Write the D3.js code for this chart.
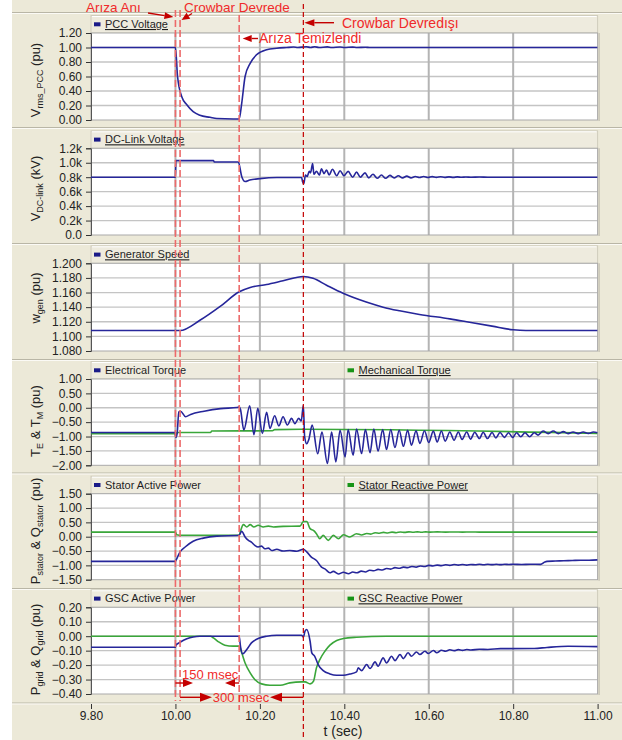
<!DOCTYPE html>
<html><head><meta charset="utf-8">
<script src="https://cdn.jsdelivr.net/npm/d3@7"></script>
<style>
body{margin:0;background:#fff;}
svg{display:block;font-family:"Liberation Sans",Arial,sans-serif;}
</style>
</head><body>
<svg id="chart" width="622" height="740"></svg>
<script>
// ---------------- DATA ----------------
const xTicks = [9.8, 10.0, 10.2, 10.4, 10.6, 10.8, 11.0];
const pccTicks = [0, 0.2, 0.4, 0.6, 0.8, 1.0, 1.2];
const dcTickLabels = ["0.0", "0.2k", "0.4k", "0.6k", "0.8k", "1.0k", "1.2k"];
const dcTicks = [0, 0.2, 0.4, 0.6, 0.8, 1.0, 1.2];
const speedTicks = [1.08, 1.10, 1.12, 1.14, 1.16, 1.18, 1.20];
const torqueTicks = [-2.0, -1.5, -1.0, -0.5, 0, 0.5, 1.0];
const statorTicks = [-1.5, -1.0, -0.5, 0, 0.5, 1.0, 1.5];
const gscTicks = [-0.4, -0.3, -0.2, -0.1, 0, 0.1, 0.2];

// event times (s)
const eventTimes = { fault: 10.0, crowbarOn: 10.011, faultClear: 10.151, crowbarOff: 10.303 };

const pccVoltage = [[9.8,1.0],[10.0,1.0],[10.005,0.60],[10.015,0.32],[10.027,0.21],[10.042,0.115],[10.058,0.065],[10.082,0.037],[10.098,0.02],[10.137,0.014],[10.151,0.015],[10.157,0.23],[10.165,0.60],[10.177,0.78],[10.192,0.90],[10.216,0.97],[10.24,0.99],[10.263,1.0],[10.28,1.006],[10.29,1.0],[10.31,1.01],[10.32,1.0],[10.33,1.01],[10.34,1.0],[10.36,1.008],[10.37,1.0],[10.39,1.006],[10.40,1.0],[10.42,1.005],[10.43,1.0],[10.45,1.004],[10.46,1.0],[11.0,1.0]];

const dcLinkVoltage = [[9.8,0.80],[10.0,0.80],[10.001,1.03],[10.09,1.03],[10.092,1.01],[10.149,1.01],[10.157,0.81],[10.165,0.74],[10.176,0.76],[10.20,0.78],[10.24,0.795],[10.299,0.795],[10.301,0.74],[10.304,0.71],[10.308,0.83],[10.312,0.81],[10.317,0.88],[10.320,0.86],[10.325,0.99],[10.328,0.84],[10.334,0.88],[10.341,0.83],[10.346,0.915],[10.352,0.85],[10.358,0.90],[10.364,0.83],[10.372,0.91],[10.382,0.82],[10.390,0.89],[10.399,0.82],[10.409,0.88],[10.420,0.80],[10.429,0.87],[10.438,0.80],[10.449,0.86],[10.458,0.79],[10.468,0.84],[10.478,0.785],[10.488,0.83],[10.498,0.785],[10.508,0.825],[10.518,0.79],[10.528,0.82],[10.538,0.79],[10.548,0.815],[10.558,0.79],[10.568,0.81],[10.578,0.795],[10.588,0.81],[10.598,0.795],[10.608,0.808],[10.618,0.797],[10.628,0.806],[10.638,0.798],[10.648,0.805],[10.658,0.798],[10.668,0.804],[10.678,0.799],[10.688,0.803],[10.70,0.80],[10.72,0.802],[10.74,0.80],[11.0,0.80]];

const generatorSpeed = [[9.8,1.108],[10.011,1.108],[10.058,1.122],[10.106,1.141],[10.151,1.161],[10.177,1.167],[10.216,1.171],[10.255,1.176],[10.303,1.182],[10.326,1.1795],[10.358,1.170],[10.397,1.159],[10.452,1.147],[10.492,1.140],[10.531,1.135],[10.578,1.130],[10.65,1.124],[10.70,1.119],[10.75,1.114],[10.80,1.109],[10.83,1.108],[11.0,1.108]];

const electricalTorque = [[9.8,-0.86],[9.999,-0.86],[10.001,-1.03],[10.004,-0.9],[10.008,-0.14],[10.012,-0.12],[10.024,-0.31],[10.036,-0.23],[10.068,-0.12],[10.107,-0.03],[10.146,0.01],[10.151,0.03],[10.154,-0.05],[10.162,-0.77],[10.176,0.07],[10.186,-0.94],[10.195,-0.02],[10.206,-0.89],[10.216,-0.16],[10.224,-0.72],[10.235,-0.28],[10.245,-0.63],[10.255,-0.31],[10.265,-0.60],[10.275,-0.37],[10.283,-0.55],[10.292,-0.37],[10.298,-0.46],[10.303,0.09],[10.306,-1.0],[10.311,-1.25],[10.316,-1.1],[10.324,-0.60],[10.337,-1.6],[10.347,-0.84],[10.360,-1.94],[10.370,-0.84],[10.380,-1.88],[10.390,-0.78],[10.402,-1.71],[10.409,-0.76],[10.421,-1.65],[10.429,-0.74],[10.441,-1.59],[10.450,-0.76],[10.461,-1.56],[10.470,-0.74],[10.480,-1.51],[10.491,-0.76],[10.500,-1.45],[10.510,-0.76],[10.520,-1.38],[10.530,-0.78],[10.540,-1.34],[10.550,-0.78],[10.559,-1.30],[10.570,-0.80],[10.579,-1.24],[10.590,-0.80],[10.600,-1.21],[10.611,-0.81],[10.620,-1.19],[10.630,-0.81],[10.639,-1.16],[10.650,-0.84],[10.660,-1.13],[10.670,-0.84],[10.679,-1.10],[10.690,-0.84],[10.699,-1.09],[10.709,-0.85],[10.720,-1.07],[10.729,-0.85],[10.739,-1.07],[10.750,-0.86],[10.759,-1.05],[10.769,-0.86],[10.779,-1.03],[10.789,-0.87],[10.799,-1.03],[10.808,-0.87],[10.818,-1.01],[10.828,-0.87],[10.839,-1.01],[10.850,-0.87],[10.859,-0.95],[10.871,-0.81],[10.883,-0.90],[10.895,-0.81],[10.907,-0.90],[10.919,-0.83],[10.930,-0.90],[10.942,-0.84],[10.954,-0.90],[10.966,-0.84],[10.978,-0.89],[10.990,-0.84],[11.0,-0.87]];

const mechanicalTorque = [[9.8,-0.90],[10.002,-0.90],[10.004,-0.86],[10.083,-0.86],[10.086,-0.81],[10.23,-0.80],[10.235,-0.76],[10.30,-0.745],[11.0,-0.89]];

const statorActivePower = [[9.8,-0.86],[10.0,-0.86],[10.003,-0.77],[10.011,-0.53],[10.023,-0.36],[10.042,-0.16],[10.066,-0.05],[10.098,0.02],[10.151,0.05],[10.157,0.19],[10.165,-0.01],[10.173,-0.13],[10.180,-0.19],[10.188,-0.30],[10.196,-0.36],[10.204,-0.33],[10.212,-0.42],[10.220,-0.40],[10.228,-0.48],[10.240,-0.44],[10.255,-0.50],[10.271,-0.48],[10.287,-0.51],[10.303,-0.44],[10.311,-0.53],[10.322,-0.71],[10.334,-0.83],[10.346,-1.06],[10.354,-1.12],[10.366,-1.26],[10.374,-1.21],[10.386,-1.30],[10.398,-1.24],[10.41,-1.29],[10.42,-1.23],[10.43,-1.26],[10.44,-1.20],[10.45,-1.23],[10.46,-1.17],[10.47,-1.19],[10.48,-1.14],[10.49,-1.16],[10.50,-1.11],[10.51,-1.13],[10.52,-1.08],[10.53,-1.10],[10.54,-1.06],[10.55,-1.08],[10.56,-1.04],[10.57,-1.06],[10.58,-1.02],[10.59,-1.04],[10.60,-1.0],[10.61,-1.02],[10.62,-0.99],[10.63,-1.01],[10.64,-0.98],[10.65,-1.0],[10.66,-0.97],[10.67,-0.99],[10.68,-0.97],[10.69,-0.99],[10.70,-0.97],[10.71,-0.98],[10.72,-0.96],[10.73,-0.98],[10.74,-0.96],[10.75,-0.975],[10.76,-0.96],[10.77,-0.975],[10.78,-0.96],[10.79,-0.97],[10.80,-0.96],[10.82,-0.97],[10.84,-0.96],[10.865,-0.965],[10.875,-0.88],[10.88,-0.86],[10.90,-0.85],[10.92,-0.84],[10.94,-0.83],[10.96,-0.82],[10.98,-0.82],[11.0,-0.81]];

const statorReactivePower = [[9.8,0.16],[10.0,0.16],[10.003,0.07],[10.015,0.05],[10.151,0.05],[10.154,0.19],[10.161,0.42],[10.169,0.34],[10.177,0.42],[10.186,0.34],[10.196,0.40],[10.208,0.34],[10.220,0.37],[10.232,0.34],[10.255,0.36],[10.295,0.37],[10.303,0.53],[10.311,0.53],[10.319,0.28],[10.327,0.22],[10.334,0.105],[10.342,-0.07],[10.350,0.047],[10.362,-0.128],[10.374,0.047],[10.386,-0.07],[10.398,0.07],[10.413,-0.01],[10.429,0.105],[10.441,0.06],[10.453,0.11],[10.463,0.09],[10.473,0.14],[10.483,0.12],[10.493,0.15],[10.503,0.13],[10.513,0.16],[10.523,0.14],[10.533,0.165],[10.543,0.15],[10.553,0.17],[10.563,0.155],[10.573,0.17],[10.583,0.155],[10.593,0.17],[10.603,0.158],[10.62,0.168],[10.64,0.16],[10.66,0.166],[10.68,0.16],[10.70,0.164],[10.72,0.16],[10.75,0.16],[11.0,0.16]];

const gscActivePower = [[9.8,-0.076],[10.0,-0.076],[10.001,-0.062],[10.011,-0.042],[10.027,-0.018],[10.042,-0.005],[10.058,0.0],[10.151,0.0],[10.154,-0.069],[10.159,-0.122],[10.169,-0.092],[10.180,-0.046],[10.196,-0.016],[10.216,0.0],[10.24,0.007],[10.299,0.007],[10.303,-0.007],[10.307,0.035],[10.311,0.046],[10.319,-0.035],[10.323,-0.115],[10.330,-0.139],[10.338,-0.196],[10.350,-0.238],[10.366,-0.261],[10.382,-0.270],[10.398,-0.27],[10.413,-0.262],[10.429,-0.247],[10.433,-0.219],[10.441,-0.238],[10.453,-0.196],[10.461,-0.224],[10.473,-0.178],[10.480,-0.208],[10.492,-0.150],[10.500,-0.185],[10.512,-0.139],[10.520,-0.169],[10.532,-0.127],[10.540,-0.155],[10.551,-0.115],[10.559,-0.139],[10.571,-0.109],[10.579,-0.127],[10.591,-0.104],[10.599,-0.12],[10.611,-0.099],[10.619,-0.115],[10.630,-0.097],[10.64,-0.104],[10.65,-0.094],[10.66,-0.10],[10.67,-0.093],[10.68,-0.098],[10.69,-0.092],[10.70,-0.096],[10.72,-0.09],[10.74,-0.092],[10.77,-0.086],[10.85,-0.085],[10.88,-0.078],[10.93,-0.07],[11.0,-0.072]];

const gscReactivePower = [[9.8,0],[10.083,0],[10.090,-0.012],[10.102,-0.039],[10.117,-0.062],[10.137,-0.069],[10.151,-0.069],[10.157,-0.115],[10.165,-0.185],[10.177,-0.254],[10.188,-0.30],[10.204,-0.330],[10.224,-0.339],[10.248,-0.339],[10.271,-0.323],[10.299,-0.316],[10.307,-0.316],[10.319,-0.330],[10.327,-0.312],[10.334,-0.219],[10.342,-0.162],[10.354,-0.104],[10.366,-0.062],[10.382,-0.030],[10.398,-0.016],[10.429,-0.007],[10.50,0],[11.0,0]];

// ---------------- STYLE / LAYOUT ----------------
const BLUE = "#26269a", GREEN = "#3aa63a";
const BLUE_KEY = "#1a1a88", GREEN_KEY = "#179417";
const BG = "#ECE9D8";
const PLOT_L = 91, PLOT_R = 597.6;

const f2 = d3.format(".2f"), f3 = d3.format(".3f");

const panels = [
  { top: 33, bottom: 120, domain: [0, 1.2], ticks: pccTicks, fmt: f2, sep: 127.5, tc: 80,
    title: [["V",13],["rms_PCC",9,1],[" (pu)",13]],
    series: [{ data: pccVoltage, color: BLUE }],
    legends: [{ label: "PCC Voltage", color: BLUE_KEY, underline: true, x: 94 }] },
  { top: 148.3, bottom: 235, domain: [0, 1.2], ticks: dcTicks, fmt: (d, i) => dcTickLabels[i], sep: 243.5, tc: 188.5,
    title: [["V",13],["DC-link",9,1],[" (kV)",13]],
    series: [{ data: dcLinkVoltage, color: BLUE }],
    legends: [{ label: "DC-Link Voltage", color: BLUE_KEY, underline: true, x: 94 }] },
  { top: 263.3, bottom: 351, domain: [1.08, 1.2], ticks: speedTicks, fmt: f3, sep: 359.5, tc: 298,
    title: [["w",13],["gen",9,1],[" (pu)",13]],
    series: [{ data: generatorSpeed, color: BLUE }],
    legends: [{ label: "Generator Speed", color: BLUE_KEY, underline: true, x: 94 }] },
  { top: 379, bottom: 465.3, domain: [-2, 1], ticks: torqueTicks, fmt: f2, sep: 473, tc: 421,
    title: [["T",13],["E",9,1],[" & T",13],["M",9,1],[" (pu)",13]],
    series: [{ data: mechanicalTorque, color: GREEN }, { data: electricalTorque, color: BLUE }],
    legends: [{ label: "Electrical Torque", color: BLUE_KEY, underline: false, x: 94 },
              { label: "Mechanical Torque", color: GREEN_KEY, underline: true, x: 347.5 }] },
  { top: 493.7, bottom: 579.7, domain: [-1.5, 1.5], ticks: statorTicks, fmt: f2, sep: 588.5, tc: 531,
    title: [["P",13],["stator",9,1],[" & Q",13],["stator",9,1],[" (pu)",13]],
    series: [{ data: statorReactivePower, color: GREEN }, { data: statorActivePower, color: BLUE }],
    legends: [{ label: "Stator Active Power", color: BLUE_KEY, underline: false, x: 94 },
              { label: "Stator Reactive Power", color: GREEN_KEY, underline: true, x: 347.5 }] },
  { top: 607.3, bottom: 694, domain: [-0.4, 0.2], ticks: gscTicks, fmt: f2, sep: 703, tc: 649.5,
    title: [["P",13],["grid",9,1],[" & Q",13],["grid",9,1],[" (pu)",13]],
    series: [{ data: gscReactivePower, color: GREEN }, { data: gscActivePower, color: BLUE }],
    legends: [{ label: "GSC Active Power", color: BLUE_KEY, underline: false, x: 94 },
              { label: "GSC Reactive Power", color: GREEN_KEY, underline: true, x: 347.5 }] }
];

// ---------------- DRAW ----------------
const svg = d3.select("#chart");
const x = d3.scaleLinear().domain([9.8, 11.0]).range([PLOT_L, PLOT_R]);

svg.append("rect").attr("x", 0).attr("y", 0).attr("width", 622).attr("height", 740).attr("fill", "#fff");
svg.append("rect").attr("x", 12).attr("y", 0).attr("width", 610).attr("height", 740).attr("fill", BG);

function sepLine(y) {
  svg.append("line").attr("x1", 12).attr("x2", 622).attr("y1", y).attr("y2", y).attr("stroke", "#b9b6a6").attr("stroke-width", 1);
  svg.append("line").attr("x1", 12).attr("x2", 622).attr("y1", y + 1).attr("y2", y + 1).attr("stroke", "#fbfaf5").attr("stroke-width", 1);
}
sepLine(12.5);

const defs = svg.append("defs");

panels.forEach((p, pi) => {
  const y = d3.scaleLinear().domain(p.domain).range([p.bottom, p.top]);
  const g = svg.append("g");

  // header band
  const hTop = p.top - 17.5;
  g.append("rect").attr("x", PLOT_L).attr("y", hTop).attr("width", PLOT_R - PLOT_L).attr("height", 17.5)
    .attr("fill", "#EEEBDE").attr("stroke", "#cfccbc").attr("stroke-width", 1);
  g.append("line").attr("x1", PLOT_L + 1).attr("x2", PLOT_R - 1).attr("y1", hTop + 1).attr("y2", hTop + 1).attr("stroke", "#fff");
  if (p.legends.length > 1) {
    g.append("line").attr("x1", x(10.4)).attr("x2", x(10.4)).attr("y1", hTop).attr("y2", p.top)
      .attr("stroke", "#c6c3b3").attr("stroke-width", 1);
  }
  p.legends.forEach(l => {
    g.append("rect").attr("x", l.x).attr("y", p.top - 10.7).attr("width", 6.5).attr("height", 4).attr("fill", l.color);
    const t = g.append("text").attr("x", l.x + 11).attr("y", p.top - 5).attr("font-size", 11).attr("fill", "#1e1e1e").text(l.label);
    if (l.underline) t.attr("text-decoration", "underline");
  });

  // plot area
  g.append("rect").attr("x", PLOT_L).attr("y", p.top).attr("width", PLOT_R - PLOT_L).attr("height", p.bottom - p.top)
    .attr("fill", "#fff");

  g.selectAll(null).data(p.ticks.slice(1, -1)).join("line")
    .attr("x1", PLOT_L).attr("x2", PLOT_R).attr("y1", d => y(d)).attr("y2", d => y(d))
    .attr("stroke", "#c4c4c4").attr("stroke-width", 1.3);
  g.selectAll(null).data(xTicks.slice(1, -1)).join("line")
    .attr("x1", d => x(d)).attr("x2", d => x(d)).attr("y1", p.top).attr("y2", p.bottom)
    .attr("stroke", "#b4b4b4").attr("stroke-width", 2);

  g.append("rect").attr("x", PLOT_L).attr("y", p.top).attr("width", PLOT_R - PLOT_L).attr("height", p.bottom - p.top)
    .attr("fill", "none").attr("stroke", "#a9a9a9").attr("stroke-width", 1);
  g.append("line").attr("x1", PLOT_R + 1.5).attr("x2", PLOT_R + 1.5).attr("y1", p.top).attr("y2", p.bottom + 1)
    .attr("stroke", "#c8c5b6").attr("stroke-width", 1.5);

  const yAxis = d3.axisLeft(y).tickValues(p.ticks).tickFormat(p.fmt).tickSize(5).tickPadding(4);
  const ag = g.append("g").attr("transform", `translate(${PLOT_L},0)`).call(yAxis);
  ag.select(".domain").attr("stroke", "#555");
  ag.selectAll(".tick line").attr("stroke", "#333");
  ag.selectAll(".tick text").attr("font-size", 12).attr("fill", "#222")
    .attr("font-family", '"Liberation Sans",Arial,sans-serif');

  const tt = g.append("text").attr("transform", `translate(40,${p.tc}) rotate(-90)`).attr("text-anchor", "middle").attr("fill", "#222");
  let shifted = 0;
  p.title.forEach(part => {
    const sp = tt.append("tspan").attr("font-size", part[1]).text(part[0]);
    const target = part[2] ? 3 : 0;
    if (target !== shifted) { sp.attr("dy", target - shifted); shifted = target; }
  });

  defs.append("clipPath").attr("id", "clip" + pi).append("rect")
    .attr("x", PLOT_L).attr("y", p.top - 1).attr("width", PLOT_R - PLOT_L).attr("height", p.bottom - p.top + 2);

  const line = d3.line().curve(d3.curveMonotoneX).x(d => x(d[0])).y(d => y(d[1]));
  p.series.forEach(s => {
    g.append("path").datum(s.data).attr("d", line).attr("fill", "none").attr("stroke", s.color)
      .attr("stroke-width", 1.6).attr("stroke-linejoin", "round").attr("clip-path", `url(#clip${pi})`);
  });

  sepLine(p.sep);
});

// x axis
const xg = svg.append("g").attr("transform", "translate(0,704)")
  .call(d3.axisBottom(x).tickValues(xTicks).tickFormat(d3.format(".2f")).tickSize(5).tickPadding(2));
xg.select(".domain").remove();
xg.selectAll(".tick line").attr("stroke", "#333");
xg.selectAll(".tick text").attr("font-size", 12).attr("fill", "#222").attr("font-family", '"Liberation Sans",Arial,sans-serif');
svg.append("text").attr("x", 343).attr("y", 735.5).attr("text-anchor", "middle").attr("font-size", 14).attr("fill", "#222").text("t (sec)");

// ---------------- EVENT MARKERS ----------------
const xA = x(eventTimes.fault), xB = x(eventTimes.crowbarOn), xC = x(eventTimes.faultClear), xD = x(eventTimes.crowbarOff);
const LIGHT_RED = "#ec6a6a", DARK_RED = "#c40000", TEXT_RED = "#f02a2a";
[[xA, 10, 701], [xB, 10, 701], [xC, 15, 710]].forEach(([xx, y1, y2]) => {
  svg.append("line").attr("x1", xx).attr("x2", xx).attr("y1", y1).attr("y2", y2)
    .attr("stroke", LIGHT_RED).attr("stroke-width", 1.6).attr("stroke-dasharray", "7,3");
});
svg.append("line").attr("x1", xD).attr("x2", xD).attr("y1", 4).attr("y2", 739)
  .attr("stroke", DARK_RED).attr("stroke-width", 1.2).attr("stroke-dasharray", "5,3");

function arrow(x1, y1, x2, y2, hl, hw, color) {
  const dx = x2 - x1, dy = y2 - y1, L = Math.hypot(dx, dy);
  const ux = dx / L, uy = dy / L;
  const bx = x2 - ux * hl, by = y2 - uy * hl;
  svg.append("line").attr("x1", x1).attr("y1", y1).attr("x2", bx).attr("y2", by).attr("stroke", color).attr("stroke-width", 1.4);
  svg.append("path").attr("d", `M${x2},${y2}L${bx - uy * hw / 2},${by + ux * hw / 2}L${bx + uy * hw / 2},${by - ux * hw / 2}Z`).attr("fill", color);
}

function label(txt, xx, yy, size, anchor) {
  svg.append("text").attr("x", xx).attr("y", yy).attr("font-size", size).attr("fill", TEXT_RED)
    .attr("text-anchor", anchor || "start").text(txt);
}

label("Arıza Anı", 86, 12, 13.5);
arrow(148, 13, xA - 2, 17, 9, 7, DARK_RED);
label("Crowbar Devrede", 184, 12, 13.5);
arrow(192, 13.5, xB + 1.5, 20, 8, 7, DARK_RED);
label("Crowbar Devredışı", 342, 27.5, 14);
arrow(334, 22.7, xD + 1, 22.7, 10, 7, DARK_RED);
label("Arıza Temizlendi", 259, 43, 14);
arrow(258, 38.5, xC + 3.5, 38.5, 9, 7, DARK_RED);

label("150 msec", 182, 679, 13);
arrow(xA, 683, 193, 683, 10, 8, DARK_RED);
arrow(xC, 683, 225, 683, 10, 8, DARK_RED);
arrow(xB, 697.3, 212, 697.3, 12, 9, DARK_RED);
arrow(xD, 697.3, 270, 697.3, 12, 9, DARK_RED);
label("300 msec", 241, 702, 13, "middle");
</script>
</body></html>
